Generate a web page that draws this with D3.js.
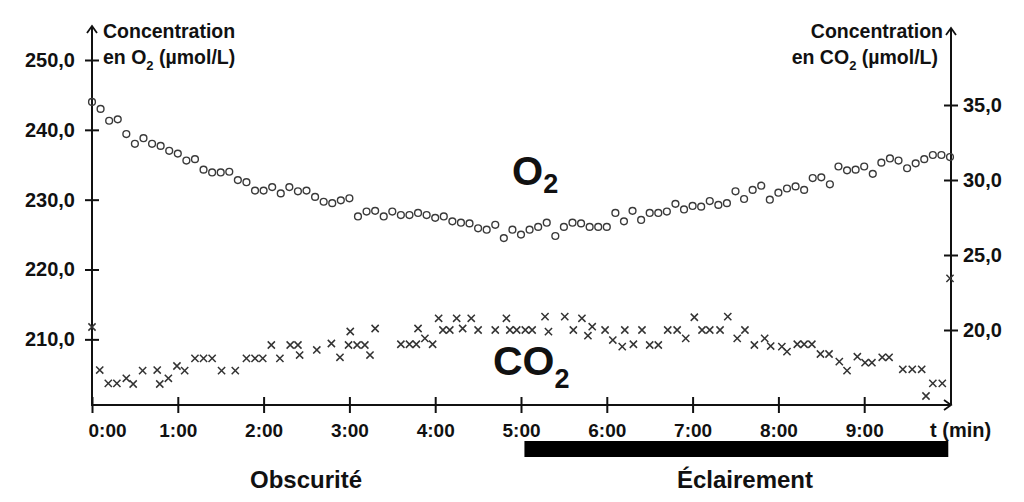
<!DOCTYPE html>
<html><head><meta charset="utf-8">
<script src="https://cdn.jsdelivr.net/npm/d3@7"></script>
<style>
body{margin:0;background:#fff}
svg{display:block}
text{font-family:"Liberation Sans",Arial,Helvetica,sans-serif;font-weight:bold;fill:#111}
</style>
</head><body>
<svg id="c" width="1024" height="502"></svg>
<script>
// ---- data ----
const o2StepMin = 0.1; // one O2 reading every 6 s
const o2Values = [
 244.0,243.0,241.3,241.5,239.4,238.0,238.8,238.0,237.7,237.0,
 236.6,235.6,235.8,234.3,233.9,233.9,234.0,232.8,232.5,231.3,
 231.3,231.8,230.9,231.8,231.2,231.3,230.4,229.7,229.5,229.9,
 230.2,227.6,228.3,228.4,227.6,228.3,227.8,227.8,228.1,227.8,
 227.4,227.6,226.9,226.7,226.6,225.9,225.7,226.4,224.5,225.7,
 225.0,225.7,226.1,226.7,224.8,226.1,226.7,226.6,226.1,226.1,
 226.1,228.1,226.9,228.4,227.1,228.1,228.1,228.3,229.4,228.6,
 229.1,229.0,229.8,229.25,229.5,231.2,230.1,231.4,232.0,230.0,
 231.0,231.6,231.9,231.4,233.1,233.2,232.2,234.75,234.2,234.3,
 234.75,233.7,235.3,235.9,235.6,234.5,235.2,235.8,236.4,236.4,
 236.1
];
const co2Times = [
 0.00,0.09,0.19,0.29,0.40,0.48,0.59,0.76,0.79,0.89,
 0.99,1.08,1.20,1.30,1.40,1.51,1.67,1.80,1.90,1.99,
 2.09,2.19,2.31,2.40,2.42,2.62,2.79,2.89,2.99,3.01,
 3.09,3.18,3.24,3.30,3.60,3.70,3.78,3.80,3.88,3.97,
 4.04,4.09,4.17,4.25,4.32,4.42,4.50,4.70,4.83,4.87,
 4.95,5.05,5.13,5.28,5.32,5.51,5.61,5.71,5.78,5.83,
 5.98,6.07,6.18,6.21,6.31,6.41,6.50,6.60,6.71,6.82,
 6.92,7.02,7.11,7.20,7.32,7.41,7.52,7.61,7.72,7.84,
 7.91,8.04,8.10,8.22,8.30,8.39,8.49,8.59,8.71,8.80,
 8.92,9.01,9.09,9.21,9.29,9.45,9.56,9.67,9.72,9.80,
 9.91,10.00
];
const co2Values = [
 20.2,17.33,16.44,16.44,16.78,16.4,17.29,17.33,16.4,16.78,
 17.6,17.29,18.11,18.11,18.11,17.29,17.29,18.11,18.11,18.11,
 19.0,18.11,19.0,19.0,18.33,18.67,19.1,18.18,19.0,19.9,
 19.0,19.0,18.33,20.1,19.05,19.05,19.05,20.1,19.44,19.05,
 20.78,20.0,20.0,20.78,20.1,20.78,20.0,20.0,20.78,20.0,
 20.0,20.0,20.0,20.89,19.89,20.89,20.0,20.78,19.62,20.22,
 20.0,19.33,18.89,20.0,19.05,20.0,19.0,19.0,20.0,20.0,
 19.44,20.85,20.0,20.0,20.0,20.89,19.44,20.0,19.0,19.44,
 18.93,18.89,18.56,19.05,19.05,19.05,18.4,18.4,17.89,17.29,
 18.22,17.82,17.82,18.18,18.18,17.38,17.38,17.38,15.6,16.44,
 16.44,23.44
];
const timeTicks = [0,1,2,3,4,5,6,7,8,9];
const timeTickLabels = ["0:00","1:00","2:00","3:00","4:00","5:00","6:00","7:00","8:00","9:00"];
const o2Ticks = [210,220,230,240,250];
const co2Ticks = [20,25,30,35];
const lightPeriod = [5.04, 9.98];

// ---- drawing ----
const svg = d3.select("#c");
const fr = d3.formatLocale({decimal:",",thousands:" ",grouping:[3],currency:["","€"]});
const fmt = fr.format(".1f");

const x = d3.scaleLinear().domain([0,10]).range([92,950]);
const yO2 = d3.scaleLinear().domain([200.6,250]).range([405,60]);
const yCO2 = d3.scaleLinear().domain([15,40]).range([405,30]);
const xAxisY = 405, leftX = 92, rightX = 951;

// left axis
const gl = svg.append("g").attr("transform",`translate(${leftX},0)`)
  .call(d3.axisLeft(yO2).tickValues(o2Ticks).tickFormat(fmt));
gl.select(".domain").remove();
gl.selectAll(".tick line").attr("x1",-7).attr("x2",7).attr("stroke","#111").attr("stroke-width",2);
gl.selectAll(".tick text").attr("x",-17).attr("font-size",20).attr("font-family",null).attr("fill","#111");

// right axis
const gr = svg.append("g").attr("transform",`translate(${rightX},0)`)
  .call(d3.axisRight(yCO2).tickValues(co2Ticks).tickFormat(fmt));
gr.select(".domain").remove();
gr.selectAll(".tick line").attr("x1",-7).attr("x2",7).attr("stroke","#111").attr("stroke-width",2);
gr.selectAll(".tick text").attr("x",12).attr("font-size",20).attr("font-family",null).attr("fill","#111");

// bottom axis
const gb = svg.append("g").attr("transform",`translate(0,${xAxisY})`)
  .call(d3.axisBottom(x).tickValues(timeTicks).tickFormat((d,i)=>timeTickLabels[i]));
gb.select(".domain").remove();
gb.selectAll(".tick line").attr("y1",-8).attr("y2",8).attr("stroke","#111").attr("stroke-width",2);
gb.selectAll(".tick text").attr("y",32).attr("dy",null).attr("font-size",19).attr("font-family",null).attr("fill","#111");
gb.selectAll(".tick text").filter(d=>d===0).attr("text-anchor","start").attr("x",-4);

// axis lines with arrows
const ax = svg.append("g").attr("stroke","#111").attr("stroke-width",2).attr("fill","none");
ax.append("line").attr("x1",leftX).attr("x2",leftX).attr("y1",xAxisY).attr("y2",26);
ax.append("path").attr("d",`M${leftX-5},${33}L${leftX},${26}L${leftX+5},${33}`).attr("stroke-width",1.8);
ax.append("line").attr("x1",rightX).attr("x2",rightX).attr("y1",xAxisY).attr("y2",28);
ax.append("path").attr("d",`M${rightX-5},${35}L${rightX},${28}L${rightX+5},${35}`).attr("stroke-width",1.8);
ax.append("line").attr("x1",leftX-1).attr("x2",rightX).attr("y1",xAxisY).attr("y2",xAxisY);
ax.append("path").attr("d",`M${rightX-7},${xAxisY-5}L${rightX},${xAxisY}L${rightX-7},${xAxisY+5}`).attr("stroke-width",1.8);

svg.append("text").attr("x",930).attr("y",437).attr("font-size",20).text("t (min)");

// axis titles
svg.append("text").attr("x",103).attr("y",38).attr("font-size",19.5).text("Concentration");
const t1 = svg.append("text").attr("x",103).attr("y",64).attr("font-size",19.5);
t1.append("tspan").text("en O");
t1.append("tspan").attr("font-size",13).attr("dy",6).text("2");
t1.append("tspan").attr("dy",-6).text(" (µmol/L)");

svg.append("text").attr("x",943).attr("y",38).attr("text-anchor","end").attr("font-size",19.5).text("Concentration");
const t2 = svg.append("text").attr("x",938).attr("y",64).attr("text-anchor","end").attr("font-size",19.5);
t2.append("tspan").text("en CO");
t2.append("tspan").attr("font-size",13).attr("dy",6).text("2");
t2.append("tspan").attr("dy",-6).text(" (µmol/L)");

// illumination bar
svg.append("rect").attr("x",x(lightPeriod[0])).attr("width",x(lightPeriod[1])-x(lightPeriod[0]))
  .attr("y",441).attr("height",16).attr("fill","#000");
svg.append("text").attr("x",306).attr("y",488).attr("text-anchor","middle").attr("font-size",24).text("Obscurité");
svg.append("text").attr("x",745).attr("y",488).attr("text-anchor","middle").attr("font-size",24).text("Éclairement");

// series labels
const lo = svg.append("text").attr("x",512).attr("y",185).attr("font-size",40);
lo.append("tspan").text("O");
lo.append("tspan").attr("font-size",27).attr("dy",8).text("2");
const lc = svg.append("text").attr("x",493).attr("y",375).attr("font-size",41);
lc.append("tspan").text("CO");
lc.append("tspan").attr("font-size",27).attr("dy",13).text("2");

// O2 points
svg.append("g").selectAll("circle").data(o2Values).join("circle")
  .attr("cx",(d,i)=>x(i*o2StepMin)).attr("cy",d=>yO2(d)).attr("r",3.4)
  .attr("fill","none").attr("stroke","#3a3a3a").attr("stroke-width",1.4);

// CO2 points
const s = 3.6;
svg.append("g").selectAll("path").data(co2Values).join("path")
  .attr("transform",(d,i)=>`translate(${x(co2Times[i])},${yCO2(d)})`)
  .attr("d",`M${-s},${-s}L${s},${s}M${-s},${s}L${s},${-s}`)
  .attr("fill","none").attr("stroke","#333").attr("stroke-width",1.5);
</script>
</body></html>
